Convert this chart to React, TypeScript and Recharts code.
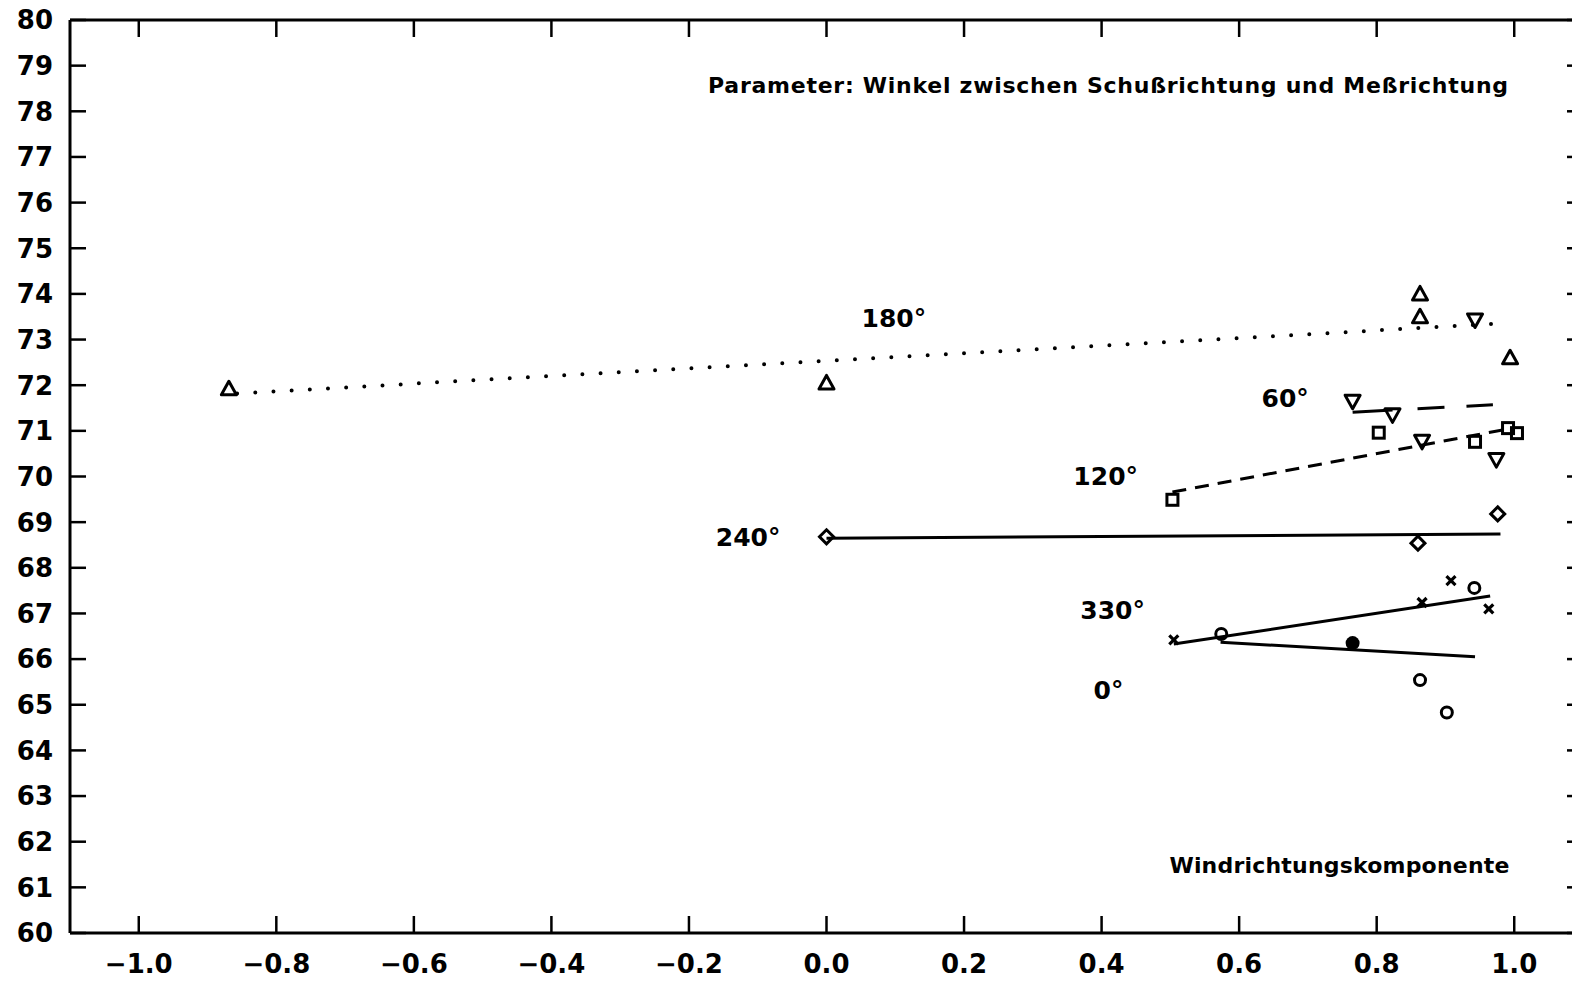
import { ScatterChart, Scatter, XAxis, YAxis } from 'recharts'

const X_TICKS = [-1.0, -0.8, -0.6, -0.4, -0.2, 0.0, 0.2, 0.4, 0.6, 0.8, 1.0]
const Y_TICKS = [60, 61, 62, 63, 64, 65, 66, 67, 68, 69, 70, 71, 72, 73, 74, 75, 76, 77, 78, 79, 80]

// measured points per angle (Windrichtungskomponente, value)
const PTS_180 = [
  { x: -0.869, y: 71.92 },
  { x: 0.0, y: 72.05 },
  { x: 0.863, y: 74.0 },
  { x: 0.863, y: 73.5 },
  { x: 0.994, y: 72.6 },
]
const PTS_60 = [
  { x: 0.765, y: 71.65 },
  { x: 0.823, y: 71.35 },
  { x: 0.866, y: 70.77 },
  { x: 0.943, y: 73.43 },
  { x: 0.974, y: 70.37 },
]
const PTS_120 = [
  { x: 0.503, y: 69.49 },
  { x: 0.803, y: 70.96 },
  { x: 0.943, y: 70.76 },
  { x: 0.991, y: 71.06 },
  { x: 1.004, y: 70.95 },
]
const PTS_240 = [
  { x: 0.0, y: 68.68 },
  { x: 0.86, y: 68.54 },
  { x: 0.976, y: 69.18 },
]
const PTS_330 = [
  { x: 0.505, y: 66.42 },
  { x: 0.866, y: 67.24 },
  { x: 0.908, y: 67.72 },
  { x: 0.963, y: 67.1 },
]
const PTS_0 = [
  { x: 0.574, y: 66.55 },
  { x: 0.942, y: 67.56 },
  { x: 0.863, y: 65.54 },
  { x: 0.902, y: 64.83 },
]
const PTS_0_FILLED = [{ x: 0.765, y: 66.35 }]

// fitted lines (end points)
const LINE_180 = [{ x: -0.857, y: 71.82 }, { x: 0.968, y: 73.34 }]
const LINE_60 = [{ x: 0.765, y: 71.41 }, { x: 0.969, y: 71.57 }]
const LINE_120 = [{ x: 0.503, y: 69.66 }, { x: 0.99, y: 71.04 }]
const LINE_240 = [{ x: 0.0, y: 68.65 }, { x: 0.98, y: 68.74 }]
const LINE_330 = [{ x: 0.505, y: 66.33 }, { x: 0.965, y: 67.38 }]
const LINE_0 = [{ x: 0.573, y: 66.37 }, { x: 0.943, y: 66.05 }]

const ANGLE_LABELS = [
  { x: 0.098, y: 73.47, text: '180°', anchor: 'middle', size: 25 },
  { x: 0.667, y: 71.72, text: '60°', anchor: 'middle', size: 25 },
  { x: 0.406, y: 70.01, text: '120°', anchor: 'middle', size: 25 },
  { x: -0.114, y: 68.67, text: '240°', anchor: 'middle', size: 25 },
  { x: 0.416, y: 67.08, text: '330°', anchor: 'middle', size: 25 },
  { x: 0.41, y: 65.32, text: '0°', anchor: 'middle', size: 25 },
]
const NOTES = [
  { x: 0.991, y: 78.58, text: 'Parameter: Winkel zwischen Schußrichtung und Meßrichtung', anchor: 'end', size: 22, len: 800 },
  { x: 0.993, y: 61.49, text: 'Windrichtungskomponente', anchor: 'end', size: 22, len: 340 },
]

const FONT = "'DejaVu Sans', Verdana, sans-serif"
const INK = '#000'

const fmtX = (v: number) => v.toFixed(1).replace('-', '\u2212')

const BottomTick = ({ x, y, payload }: any) => (
  <g>
    <line x1={x} y1={y} x2={x} y2={y - 17} stroke={INK} strokeWidth={2.5} />
    <text x={x} y={y + 31} dy="0.36em" textAnchor="middle" fontSize={26} fontFamily={FONT} fontWeight="bold" fill={INK}>
      {fmtX(payload.value)}
    </text>
  </g>
)

const TopTick = ({ x, y }: any) => (
  <line x1={x} y1={y} x2={x} y2={y + 17} stroke={INK} strokeWidth={2.5} />
)

const LeftTick = ({ x, y, payload }: any) => (
  <g>
    <line x1={x} y1={y} x2={x + 16} y2={y} stroke={INK} strokeWidth={2.5} />
    <text x={x - 17} y={y} dy="0.36em" textAnchor="end" fontSize={26} fontFamily={FONT} fontWeight="bold" fill={INK}>
      {payload.value}
    </text>
  </g>
)

const RightTick = ({ x, y }: any) => (
  <line x1={x} y1={y} x2={x - 16} y2={y} stroke={INK} strokeWidth={2.5} />
)

const TriUp = ({ cx, cy }: any) => (
  <path d={`M${cx},${cy - 7.5} L${cx + 7.5},${cy + 6} L${cx - 7.5},${cy + 6} Z`} fill="none" stroke={INK} strokeWidth={3} strokeLinejoin="round" />
)
const TriDown = ({ cx, cy }: any) => (
  <path d={`M${cx - 7.5},${cy - 6} L${cx + 7.5},${cy - 6} L${cx},${cy + 7.5} Z`} fill="none" stroke={INK} strokeWidth={3} strokeLinejoin="round" />
)
const Square = ({ cx, cy }: any) => (
  <rect x={cx - 5.5} y={cy - 5.5} width={11} height={11} fill="none" stroke={INK} strokeWidth={3} />
)
const Diamond = ({ cx, cy }: any) => (
  <path d={`M${cx},${cy - 7} L${cx + 7},${cy} L${cx},${cy + 7} L${cx - 7},${cy} Z`} fill="none" stroke={INK} strokeWidth={3} />
)
const Cross = ({ cx, cy }: any) => (
  <path d={`M${cx - 4.5},${cy - 4.5} L${cx + 4.5},${cy + 4.5} M${cx + 4.5},${cy - 4.5} L${cx - 4.5},${cy + 4.5}`} stroke={INK} strokeWidth={3.2} />
)
const Ring = ({ cx, cy }: any) => (
  <circle cx={cx} cy={cy} r={5.5} fill="none" stroke={INK} strokeWidth={3} />
)
const Disc = ({ cx, cy }: any) => <circle cx={cx} cy={cy} r={7} fill={INK} />
const NoShape = () => <g />

const Annotation = ({ cx, cy, payload }: any) => (
  <text
    x={cx}
    y={cy}
    dy="0.36em"
    textAnchor={payload.anchor}
    fontSize={payload.size}
    fontFamily={FONT}
    fontWeight="bold"
    fill={INK}
    textLength={payload.len}
    lengthAdjust={payload.len ? 'spacing' : undefined}
  >
    {payload.text}
  </text>
)

export default function App() {
  return (
    <div style={{ position: 'fixed', left: 0, top: 0, width: 1572, height: 981, overflow: 'hidden', background: '#fff' }}>
      <ScatterChart width={1610} height={981} margin={{ top: 19, right: 26, bottom: 8, left: 0 }}>
        <XAxis
          type="number"
          dataKey="x"
          domain={[-1.1, 1.1]}
          ticks={X_TICKS}
          interval={0}
          height={40}
          tickSize={0}
          tickMargin={0}
          tickLine={false}
          tick={BottomTick}
          axisLine={{ stroke: INK, strokeWidth: 3 }}
          allowDataOverflow
        />
        <XAxis
          xAxisId="top"
          orientation="top"
          type="number"
          dataKey="x"
          domain={[-1.1, 1.1]}
          ticks={X_TICKS}
          interval={0}
          height={1}
          tickSize={0}
          tickMargin={0}
          tickLine={false}
          tick={TopTick}
          axisLine={{ stroke: INK, strokeWidth: 3 }}
          allowDataOverflow
        />
        <YAxis
          type="number"
          dataKey="y"
          domain={[60, 80]}
          ticks={Y_TICKS}
          interval={0}
          width={70}
          tickSize={0}
          tickMargin={0}
          tickLine={false}
          tick={LeftTick}
          axisLine={{ stroke: INK, strokeWidth: 3 }}
          allowDataOverflow
        />
        <YAxis
          yAxisId="right"
          orientation="right"
          type="number"
          dataKey="y"
          domain={[60, 80]}
          ticks={Y_TICKS}
          interval={0}
          width={1}
          tickSize={0}
          tickMargin={0}
          tickLine={false}
          tick={RightTick}
          axisLine={{ stroke: INK, strokeWidth: 3 }}
          allowDataOverflow
        />

        <Scatter data={LINE_180} shape={NoShape} isAnimationActive={false}
          line={{ stroke: INK, strokeWidth: 4, strokeDasharray: '0 18.2', strokeLinecap: 'round' }} />
        <Scatter data={LINE_60} shape={NoShape} isAnimationActive={false}
          line={{ stroke: INK, strokeWidth: 3, strokeDasharray: '40 25 27 22' }} />
        <Scatter data={LINE_120} shape={NoShape} isAnimationActive={false}
          line={{ stroke: INK, strokeWidth: 3, strokeDasharray: '14 9' }} />
        <Scatter data={LINE_240} shape={NoShape} isAnimationActive={false}
          line={{ stroke: INK, strokeWidth: 3 }} />
        <Scatter data={LINE_330} shape={NoShape} isAnimationActive={false}
          line={{ stroke: INK, strokeWidth: 3 }} />
        <Scatter data={LINE_0} shape={NoShape} isAnimationActive={false}
          line={{ stroke: INK, strokeWidth: 3 }} />

        <Scatter data={PTS_180} shape={TriUp} isAnimationActive={false} />
        <Scatter data={PTS_60} shape={TriDown} isAnimationActive={false} />
        <Scatter data={PTS_120} shape={Square} isAnimationActive={false} />
        <Scatter data={PTS_240} shape={Diamond} isAnimationActive={false} />
        <Scatter data={PTS_330} shape={Cross} isAnimationActive={false} />
        <Scatter data={PTS_0} shape={Ring} isAnimationActive={false} />
        <Scatter data={PTS_0_FILLED} shape={Disc} isAnimationActive={false} />

        <Scatter data={ANGLE_LABELS} xAxisId="top" yAxisId="right" shape={Annotation} isAnimationActive={false} />
        <Scatter data={NOTES} xAxisId="top" yAxisId="right" shape={Annotation} isAnimationActive={false} />
      </ScatterChart>
    </div>
  )
}
